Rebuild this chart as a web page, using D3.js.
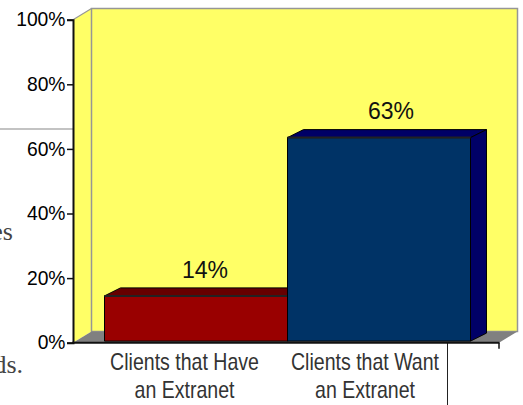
<!DOCTYPE html>
<html>
<head>
<meta charset="utf-8">
<script src="https://cdn.jsdelivr.net/npm/d3@7"></script>
<style>
html,body{margin:0;padding:0;background:#fff;overflow:hidden}
svg{display:block}
text{font-family:"Liberation Sans",Arial,sans-serif}
text.copy{font-family:"Liberation Serif",serif;font-size:26px;fill:#444}
</style>
</head>
<body>
<svg id="chart" width="523" height="405"></svg>
<script>
const categories = ["Clients that Have|an Extranet", "Clients that Want|an Extranet"];
const percentages = [14, 63];
const frontColours = ["#990000", "#003366"];
const shadeColours = ["#660000", "#000066"];
const tickValues = [0, 20, 40, 60, 80, 100];

const svg = d3.select("#chart");
const y = d3.scaleLinear().domain([0, 100]).range([342.7, 19.7]);
const x = d3.scaleBand().domain(categories).range([104.5, 470.5]);
const xValueLabel = d3.scalePoint().domain(categories).range([205, 391]);
const xCategoryLabel = d3.scalePoint().domain(categories).range([184.5, 365]);
const axisLeftEdge = 73, axisRightEdge = 499;
const wallDx = 18.5, wallDy = -11.2;
const barDx = 16, barDy = -8, barLift = -1.6;
const outline = d3.line();

// Fragments of the page copy around the chart
svg.append("text").attr("class", "copy").attr("x", 13).attr("y", 240).attr("text-anchor", "end").text("es");
svg.append("text").attr("class", "copy").attr("x", 23).attr("y", 372.5).attr("text-anchor", "end").text("ds.");
svg.append("line").attr("x1", 0).attr("x2", axisLeftEdge).attr("y1", 129).attr("y2", 129).attr("stroke", "#888").attr("stroke-width", 1.2);
svg.append("line").attr("x1", 447.5).attr("x2", 447.5).attr("y1", 343).attr("y2", 405).attr("stroke", "#222").attr("stroke-width", 1);

// Side wall, back wall and floor of the 3D plot box
const y0 = y(0), y1 = y(100);
svg.append("path")
  .attr("d", outline([[axisLeftEdge, y0], [axisLeftEdge, y1], [axisLeftEdge + wallDx, y1 + wallDy], [axisLeftEdge + wallDx, y0 + wallDy]]) + "Z")
  .attr("fill", "#ffff66");
svg.append("rect")
  .attr("x", axisLeftEdge + wallDx).attr("y", y1 + wallDy)
  .attr("width", axisRightEdge - axisLeftEdge).attr("height", y0 - y1)
  .attr("fill", "#ffff66").attr("stroke", "#969696").attr("stroke-width", 1.5);
svg.append("path")
  .attr("d", outline([[axisLeftEdge, y1], [axisLeftEdge + wallDx, y1 + wallDy]]))
  .attr("stroke", "#969696").attr("stroke-width", 1.2).attr("fill", "none");
svg.append("path")
  .attr("d", outline([[axisLeftEdge, y0], [axisLeftEdge + wallDx, y0 + wallDy], [axisRightEdge + wallDx, y0 + wallDy], [axisRightEdge, y0]]) + "Z")
  .attr("fill", "#808080");

// Extruded bars: top and side faces first, then the front
categories.forEach((cat, i) => {
  const left = x(cat), right = left + x.bandwidth();
  const top = y(percentages[i]) + barLift, base = y0 + barLift;
  const g = svg.append("g").attr("stroke", "#000").attr("stroke-width", 1).attr("stroke-linejoin", "round");
  g.append("path")
    .attr("d", outline([[left, top], [left + barDx, top + barDy], [right + barDx, top + barDy], [right, top]]) + "Z")
    .attr("fill", shadeColours[i]);
  g.append("path")
    .attr("d", outline([[right, top], [right + barDx, top + barDy], [right + barDx, base + barDy], [right, base]]) + "Z")
    .attr("fill", shadeColours[i]);
  g.append("rect")
    .attr("x", left).attr("y", top)
    .attr("width", x.bandwidth()).attr("height", base - top)
    .attr("fill", frontColours[i]);
  g.append("line")
    .attr("x1", left).attr("x2", right).attr("y1", top).attr("y2", top)
    .attr("stroke", "#222").attr("stroke-width", 2);
  svg.append("text")
    .attr("x", xValueLabel(cat))
    .attr("y", top + barDy - (i === 0 ? 10 : 11))
    .attr("text-anchor", "middle")
    .attr("font-size", 23)
    .attr("fill", "#111")
    .text(percentages[i] + "%");
});

// Axes
const yAxis = d3.axisLeft(y).tickValues(tickValues).tickFormat(d => d + "%").tickSize(6).tickPadding(1.5);
const yG = svg.append("g").attr("transform", `translate(${axisLeftEdge},0)`).call(yAxis);
yG.select(".domain").attr("stroke", "#111").attr("stroke-width", 2);
yG.selectAll(".tick line").attr("stroke", "#111").attr("stroke-width", 1.5);
yG.selectAll(".tick text").attr("font-size", 19.3).attr("fill", "#000").style("font-family", "'Liberation Sans',sans-serif");

svg.append("line").attr("x1", axisLeftEdge - 1).attr("x2", axisRightEdge + 0.5).attr("y1", y0).attr("y2", y0)
  .attr("stroke", "#111").attr("stroke-width", 2);
svg.append("line").attr("x1", axisRightEdge).attr("x2", axisRightEdge).attr("y1", y0).attr("y2", y0 + 6)
  .attr("stroke", "#111").attr("stroke-width", 1.5);

// Two-line category labels, condensed horizontally
categories.forEach(cat => {
  cat.split("|").forEach((line, j) => {
    svg.append("text")
      .attr("transform", `translate(${xCategoryLabel(cat)},${369.5 + j * 28.5}) scale(0.85,1)`)
      .attr("text-anchor", "middle")
      .attr("font-size", 23)
      .attr("fill", "#333")
      .text(line);
  });
});
</script>
</body>
</html>
